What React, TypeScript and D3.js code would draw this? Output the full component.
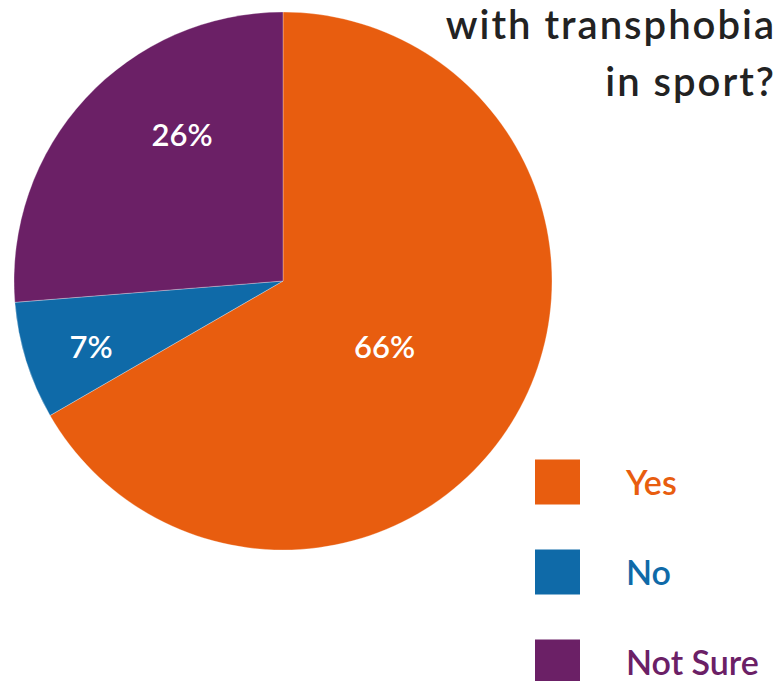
import React from "react";
import * as d3 from "d3";

const categories = ["Yes", "No", "Not Sure"];
const values = [66, 7, 26];
const colors = ["#E85D0F", "#0F6AA8", "#6B2066"];
const labelRadiusFrac = [0.45, 0.755, 0.66];
const labelAngleShift = [0.05, -0.03, 0.22];
const titleLines = ["with transphobia", "in sport?"];

const W = 774;
const H = 681;
const FONT = "Lato, 'Open Sans', sans-serif";

export default function App() {
  const cx = 283;
  const cy = 281;
  const R = 269;
  const pie = d3.pie<number>().sort(null).value((d) => d)(values);
  const arc = d3.arc<d3.PieArcDatum<number>>().innerRadius(0).outerRadius(R);
  const legendY = d3.scalePoint<string>().domain(categories).range([483, 663]);

  return (
    <svg
      width={W}
      height={H}
      style={{ position: "absolute", left: 0, top: 0, background: "#fff" }}
    >
      <g transform={`translate(${cx},${cy})`}>
        {pie.map((p, i) => (
          <path key={i} d={arc(p) || ""} fill={colors[i]} stroke="#fff" strokeWidth={0.3} />
        ))}
        {pie.map((p, i) => {
          const a = (p.startAngle + p.endAngle) / 2 + labelAngleShift[i];
          const r = R * labelRadiusFrac[i];
          const x = Math.sin(a) * r;
          const y = -Math.cos(a) * r;
          return (
            <text
              key={"l" + i}
              x={x}
              y={y}
              dy="0.36em"
              textAnchor="middle"
              fill="#fff"
              fontFamily={FONT}
              fontWeight={600}
              fontSize={31}
            >
              {values[i] + "%"}
            </text>
          );
        })}
      </g>
      {titleLines.map((t, i) => (
        <text
          key={t}
          x={776}
          y={39 + i * 57}
          textAnchor="end"
          fill="#222"
          fontFamily={FONT}
          fontWeight={600}
          fontSize={40}
          letterSpacing={2}
        >
          {t}
        </text>
      ))}
      {categories.map((c, i) => (
        <g key={c} transform={`translate(0,${legendY(c)})`}>
          <rect x={535} y={-23.5} width={45} height={45} fill={colors[i]} />
          <text
            x={626}
            y={0}
            dy="0.36em"
            fill={colors[i]}
            fontFamily={FONT}
            fontWeight={600}
            fontSize={34}
          >
            {c}
          </text>
        </g>
      ))}
    </svg>
  );
}
